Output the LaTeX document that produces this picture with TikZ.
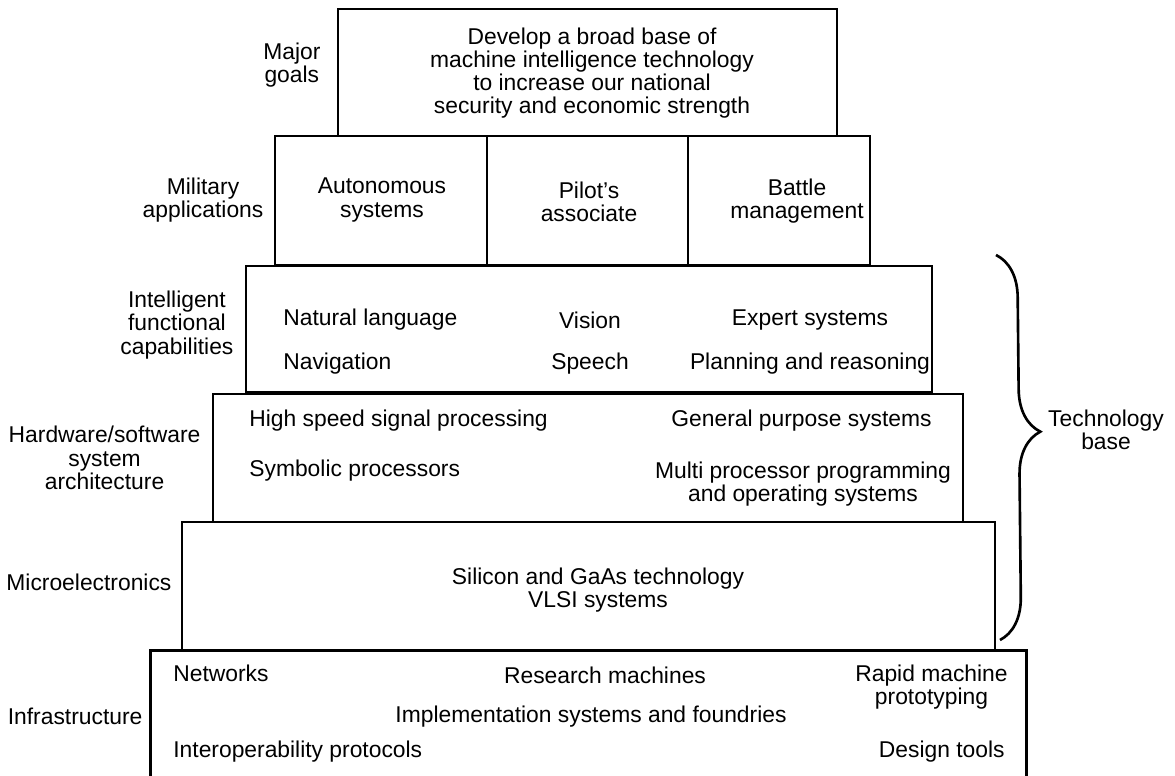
\documentclass[tikz,border=0pt]{standalone}
\usepackage{fontspec}
\setmainfont{Liberation Sans}
\usetikzlibrary{positioning,decorations.pathreplacing}

\begin{document}
\begin{tikzpicture}[x=0.02cm,y=-0.02cm,
	font=\fontsize{13}{13.2}\selectfont,
	tier/.style={draw,line width=1.5pt,inner sep=0pt},
	lab/.style={align=center,inner sep=0pt},
	item/.style={align=center,inner sep=0pt}]
	\useasboundingbox (0,0) rectangle (1175,776);
	\node[tier,minimum width=9.98cm,minimum height=2.54cm] (goal) at (587.5,72.5) {};
	\node[item] (goaltxt) at (592,73) {Develop a broad base of\\machine intelligence technology\\to increase our national\\security and economic strength};
	\node[tier,minimum width=4.24cm,minimum height=2.58cm] (auto) at (381,200.5) {};
	\node[tier,minimum width=4.02cm,minimum height=2.58cm] (pilot) at (587.5,200.5) {};
	\node[tier,minimum width=3.64cm,minimum height=2.58cm] (battle) at (779,200.5) {};
	\node[item] (autotxt) at (382,200) {Autonomous\\systems};
	\node[item] (pilottxt) at (589,202) {Pilot's\\associate};
	\node[item] (battletxt) at (797,201) {Battle\\management};
	\node[tier,minimum width=13.72cm,minimum height=2.52cm] (intel) at (589,329) {};
	\node[item,anchor=west] (natlang) at (283,320) {Natural language};
	\node[item] (vision) at (590,320) {Vision};
	\node[item] (expert) at (810,320) {Expert systems};
	\node[item,anchor=west] (navig) at (283,364) {Navigation};
	\node[item] (speech) at (590,364) {Speech};
	\node[item] (plan) at (810,364) {Planning and reasoning};
	\node[tier,minimum width=15cm,minimum height=2.56cm] (hard) at (588,458) {};
	\node[item,anchor=west] (signal) at (249,421) {High speed signal processing};
	\node[item,anchor=east] (general) at (932,421) {General purpose systems};
	\node[item,anchor=west] (symbolic) at (249,471) {Symbolic processors};
	\node[item] (multi) at (803,484) {Multi processor programming\\and operating systems};
	\node[tier,minimum width=16.26cm,minimum height=2.58cm] (micro) at (588.5,586.5) {};
	\node[item] (silicon) at (598,590) {Silicon and GaAs technology\\VLSI systems};
	\node[minimum width=17.5cm,minimum height=2.6cm,inner sep=0pt] (infra) at (588.5,716) {};
	\draw[line width=1.5pt] (infra.south west) -- (infra.north west) -- (infra.north east) -- (infra.south east);
	\node[item,anchor=west] (networks) at (173,673) {Networks};
	\node[item] (research) at (605,675) {Research machines};
	\node[item,anchor=east] (rapid) at (1008,687) {Rapid machine\\prototyping};
	\node[item] (implem) at (591,717) {Implementation systems and foundries};
	\node[item,anchor=west] (interop) at (173,752) {Interoperability protocols};
	\node[item,anchor=east] (design) at (1005,752) {Design tools};
	\node[lab,left=0.32cm of goal,yshift=0.15cm] (goallab) {Major\\goals};
	\node[lab,left=0.2cm of auto] (milab) {Military\\applications};
	\node[lab,left=0.22cm of intel,yshift=0.08cm] (intellab) {Intelligent\\functional\\capabilities};
	\node[lab,left=0.22cm of hard] (hardlab) {Hardware/software\\system\\architecture};
	\node[lab,left=0.18cm of micro,yshift=0.08cm] (microlab) {Microelectronics};
	\node[lab,left=0.16cm of infra] (infralab) {Infrastructure};
	\coordinate (bracetop) at (996,255);
	\coordinate (bracebot) at (1000,640);
	\draw[line width=1.5pt,decorate,decoration={brace,amplitude=0.85cm,aspect=0.46}] (bracetop) -- (bracebot);
	\node[lab] (techlab) at (1106,430) {Technology\\base};
\end{tikzpicture}
\end{document}
